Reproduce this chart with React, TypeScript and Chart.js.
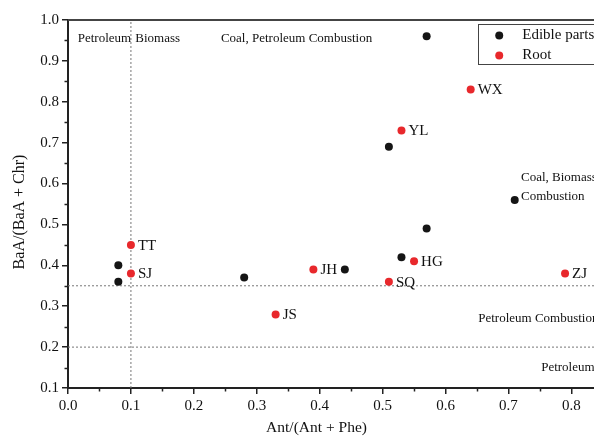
import React, { useEffect, useRef } from "react";
import { Chart, registerables } from "chart.js";

Chart.register(...registerables);

// Edible parts (black)
const edibleX = [0.08, 0.08, 0.28, 0.44, 0.51, 0.53, 0.57, 0.57, 0.71];
const edibleY = [0.40, 0.36, 0.37, 0.39, 0.69, 0.42, 0.49, 0.96, 0.56];

// Root (red) with site labels
const rootLabels = ["TT", "SJ", "JS", "JH", "SQ", "YL", "HG", "WX", "ZJ"];
const rootX = [0.10, 0.10, 0.33, 0.39, 0.51, 0.53, 0.55, 0.64, 0.79];
const rootY = [0.45, 0.38, 0.28, 0.39, 0.36, 0.73, 0.41, 0.83, 0.38];

// Reference (threshold) lines
const vLineX = 0.1;
const hLineY = [0.35, 0.2];

// Axis ranges
const xMin = 0;
const xMax = 0.836;
const yMin = 0.1;
const yMax = 1.0;

// Region annotations: [text, x value, y value]
const regionTexts: [string, number, number][] = [
  ["Petroleum", 0.0155, 0.955],
  ["Biomass", 0.107, 0.955],
  ["Coal, Petroleum Combustion", 0.243, 0.955],
  ["Coal, Biomass", 0.72, 0.615],
  ["Combustion", 0.72, 0.568],
  ["Petroleum Combustion", 0.652, 0.27],
  ["Petroleum", 0.752, 0.15],
];

const legendItems: [string, string][] = [
  ["Edible parts", "#151515"],
  ["Root", "#e8282c"],
];

const SERIF = "'Liberation Serif', 'DejaVu Serif', serif";

export default function App() {
  const ref = useRef<HTMLCanvasElement | null>(null);

  useEffect(() => {
    if (!ref.current) return;
    const toPts = (xs: number[], ys: number[]) => xs.map((x, i) => ({ x, y: ys[i] }));

    const overlay = {
      id: "overlay",
      afterDraw(chart: any) {
        const ctx = chart.ctx;
        const xs = chart.scales.x;
        const ys = chart.scales.y;
        const area = chart.chartArea;
        ctx.save();
        // minor ticks
        ctx.strokeStyle = "#222";
        ctx.lineWidth = 1.5;
        for (let i = 0; i <= 20; i++) {
          const v = i * 0.05;
          if (i % 2 === 1 && v >= xMin && v <= xMax) {
            const px = Math.round(xs.getPixelForValue(v)) + 0.5;
            ctx.beginPath();
            ctx.moveTo(px, area.bottom);
            ctx.lineTo(px, area.bottom + 3.5);
            ctx.stroke();
          }
          const vy = 0.1 + i * 0.05;
          if (i % 2 === 1 && vy <= yMax) {
            const py = Math.round(ys.getPixelForValue(vy)) + 0.5;
            ctx.beginPath();
            ctx.moveTo(area.left, py);
            ctx.lineTo(area.left - 3.5, py);
            ctx.stroke();
          }
        }
        // top border
        ctx.strokeStyle = "#444";
        ctx.lineWidth = 2;
        ctx.beginPath();
        ctx.moveTo(area.left, area.top);
        ctx.lineTo(area.right + 10, area.top);
        ctx.stroke();

        // region texts
        ctx.fillStyle = "#111";
        ctx.font = `13px ${SERIF}`;
        ctx.textBaseline = "middle";
        ctx.textAlign = "left";
        regionTexts.forEach(([t, x, y]) => {
          ctx.fillText(t, xs.getPixelForValue(x), ys.getPixelForValue(y));
        });

        // point labels for roots
        ctx.font = `15px ${SERIF}`;
        rootLabels.forEach((t, i) => {
          ctx.fillText(t, xs.getPixelForValue(rootX[i]) + 7, ys.getPixelForValue(rootY[i]) + 1);
        });

        // legend box
        const lx = xs.getPixelForValue(0.652);
        const ly = area.top + 4;
        ctx.strokeStyle = "#444";
        ctx.lineWidth = 1;
        ctx.strokeRect(Math.round(lx) + 0.5, Math.round(ly) + 0.5, 140, 40);
        ctx.font = `15px ${SERIF}`;
        legendItems.forEach(([t, c], i) => {
          const cy = ly + 11.5 + i * 20;
          ctx.fillStyle = c;
          ctx.beginPath();
          ctx.arc(lx + 21, cy, 4, 0, Math.PI * 2);
          ctx.fill();
          ctx.fillStyle = "#111";
          ctx.fillText(t, lx + 44, cy);
        });

        // axis titles
        ctx.font = `15.5px ${SERIF}`;
        ctx.textAlign = "center";
        ctx.fillText("Ant/(Ant + Phe)", xs.getPixelForValue(0.395), 428);
        ctx.save();
        ctx.translate(20, (area.top + area.bottom) / 2 + 8);
        ctx.rotate(-Math.PI / 2);
        ctx.font = `16px ${SERIF}`;
        ctx.fillText("BaA/(BaA + Chr)", 0, 0);
        ctx.restore();
        ctx.restore();
      },
    };

    const lineStyle = {
      type: "line" as const,
      borderColor: "#777",
      borderWidth: 1,
      borderDash: [2, 2],
      pointRadius: 0,
      fill: false,
      showLine: true,
      order: 5,
    };

    const chart = new Chart(ref.current, {
      type: "scatter",
      data: {
        datasets: [
          {
            ...lineStyle,
            label: "v",
            data: [{ x: vLineX, y: yMin }, { x: vLineX, y: yMax }],
          },
          ...hLineY.map((y) => ({
            ...lineStyle,
            label: "h" + y,
            data: [{ x: xMin, y }, { x: xMax, y }],
          })),
          {
            label: "Edible parts",
            data: toPts(edibleX, edibleY),
            backgroundColor: "#151515",
            borderColor: "#151515",
            pointRadius: 4,
            borderWidth: 0,
            order: 1,
          },
          {
            label: "Root",
            data: toPts(rootX, rootY),
            backgroundColor: "#e8282c",
            borderColor: "#e8282c",
            pointRadius: 4,
            borderWidth: 0,
            order: 0,
          },
        ] as any,
      },
      options: {
        animation: false,
        responsive: false,
        layout: { padding: { top: 20, right: 0, bottom: 0, left: 0 } },
        plugins: { legend: { display: false }, tooltip: { enabled: false } },
        scales: {
          x: {
            type: "linear",
            min: xMin,
            max: xMax,
            afterFit: (s: any) => { s.height = 48; },
            ticks: {
              stepSize: 0.1,
              includeBounds: false,
              color: "#111",
              font: { family: SERIF, size: 15 },
              padding: 3,
              callback: (v: any) => Number(v).toFixed(1),
              maxRotation: 0,
            },
            grid: { drawOnChartArea: false, drawTicks: true, tickLength: 6, color: "#222", lineWidth: 1.5 },
            border: { display: true, color: "#222", width: 2 },
          },
          y: {
            type: "linear",
            min: yMin,
            max: yMax,
            afterFit: (s: any) => { s.width = 68; },
            ticks: {
              stepSize: 0.1,
              color: "#111",
              font: { family: SERIF, size: 15 },
              padding: 3,
              callback: (v: any) => Number(v).toFixed(1),
            },
            grid: { drawOnChartArea: false, drawTicks: true, tickLength: 6, color: "#222", lineWidth: 1.5 },
            border: { display: true, color: "#222", width: 2 },
          },
        },
      } as any,
      plugins: [overlay],
    });
    return () => chart.destroy();
  }, []);

  return (
    <div style={{ position: "fixed", left: 0, top: 0, width: 594, height: 436, overflow: "hidden", background: "#fff" }}>
      <canvas ref={ref} width={598} height={436} />
    </div>
  );
}
